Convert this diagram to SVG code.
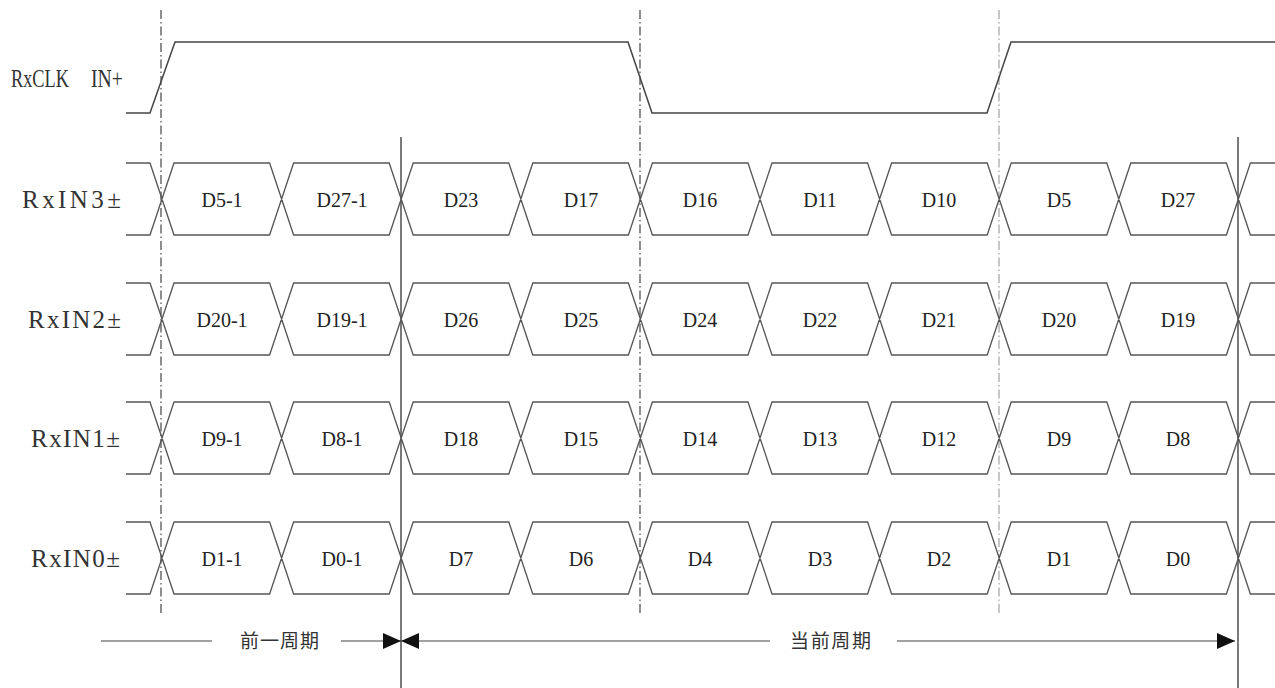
<svg xmlns="http://www.w3.org/2000/svg" width="1275" height="688" viewBox="0 0 1275 688">
<style>
.sig{fill:none;stroke:#555;stroke-width:1.3}
.clk{fill:none;stroke:#444;stroke-width:1.5}
.vl{stroke:#333;stroke-width:1.3}
.dd{stroke:#333;stroke-width:1.1;stroke-dasharray:9 3 1.5 3}
.dd2{stroke:#999;stroke-width:1.1;stroke-dasharray:9 3 1.5 3}
.lbl{font-size:25px;fill:#333}
.dat{font-size:20px;fill:#222;text-anchor:middle}
.cn{font-size:19px;fill:#333}
.ar{fill:none;stroke:#444;stroke-width:1.2}
</style>
<defs>
<marker id="arr" viewBox="0 0 18 16" refX="18" refY="8" markerWidth="18" markerHeight="16" orient="auto" markerUnits="userSpaceOnUse">
<path d="M0,0 L18,8 L0,16 Z" fill="#111"/>
</marker>
</defs>

<g id="guides">
<line class="dd" x1="161" y1="10" x2="161" y2="613"/>
<line class="dd" x1="640" y1="10" x2="640" y2="613"/>
<line class="dd2" x1="999" y1="10" x2="999" y2="613"/>
<line class="vl" x1="401" y1="137" x2="401" y2="688"/>
<line class="vl" x1="1238" y1="137" x2="1238" y2="688" stroke="#666"/>
</g>

<g font-family="Liberation Serif, Times New Roman, serif">
<g id="clk">
<text class="lbl" x="11" y="87" textLength="58" lengthAdjust="spacingAndGlyphs">RxCLK</text>
<text class="lbl" x="91" y="87" textLength="32" lengthAdjust="spacingAndGlyphs">IN+</text>
<path class="clk" d="M126,113 H150 L175,42 H628 L652,113 H987 L1011,42 H1275"/>
</g>

<g id="rx3">
<text class="lbl" x="22" y="208" textLength="99" lengthAdjust="spacing">RxIN3±</text>
<path class="sig" d="M126,163 H150 L174,235 H269.6 L293.6,163 H389.2 L413.2,235 H508.8 L532.8,163 H628.4 L652.4,235 H748 L772,163 H867.6 L891.6,235 H987.2 L1011.2,163 H1106.8 L1130.8,235 H1226.4 L1250.4,163 H1275 M126,235 H150 L174,163 H269.6 L293.6,235 H389.2 L413.2,163 H508.8 L532.8,235 H628.4 L652.4,163 H748 L772,235 H867.6 L891.6,163 H987.2 L1011.2,235 H1106.8 L1130.8,163 H1226.4 L1250.4,235 H1275"/>
<text class="dat" x="222" y="207">D5-1</text>
<text class="dat" x="342" y="207">D27-1</text>
<text class="dat" x="461" y="207">D23</text>
<text class="dat" x="581" y="207">D17</text>
<text class="dat" x="700" y="207">D16</text>
<text class="dat" x="820" y="207">D11</text>
<text class="dat" x="939" y="207">D10</text>
<text class="dat" x="1059" y="207">D5</text>
<text class="dat" x="1178" y="207">D27</text>
</g>

<g id="rx2">
<text class="lbl" x="28" y="328" textLength="93" lengthAdjust="spacing">RxIN2±</text>
<path class="sig" d="M126,283 H150 L174,355 H269.6 L293.6,283 H389.2 L413.2,355 H508.8 L532.8,283 H628.4 L652.4,355 H748 L772,283 H867.6 L891.6,355 H987.2 L1011.2,283 H1106.8 L1130.8,355 H1226.4 L1250.4,283 H1275 M126,355 H150 L174,283 H269.6 L293.6,355 H389.2 L413.2,283 H508.8 L532.8,355 H628.4 L652.4,283 H748 L772,355 H867.6 L891.6,283 H987.2 L1011.2,355 H1106.8 L1130.8,283 H1226.4 L1250.4,355 H1275"/>
<text class="dat" x="222" y="327">D20-1</text>
<text class="dat" x="342" y="327">D19-1</text>
<text class="dat" x="461" y="327">D26</text>
<text class="dat" x="581" y="327">D25</text>
<text class="dat" x="700" y="327">D24</text>
<text class="dat" x="820" y="327">D22</text>
<text class="dat" x="939" y="327">D21</text>
<text class="dat" x="1059" y="327">D20</text>
<text class="dat" x="1178" y="327">D19</text>
</g>

<g id="rx1">
<text class="lbl" x="31" y="447" textLength="89" lengthAdjust="spacing">RxIN1±</text>
<path class="sig" d="M126,402 H150 L174,474 H269.6 L293.6,402 H389.2 L413.2,474 H508.8 L532.8,402 H628.4 L652.4,474 H748 L772,402 H867.6 L891.6,474 H987.2 L1011.2,402 H1106.8 L1130.8,474 H1226.4 L1250.4,402 H1275 M126,474 H150 L174,402 H269.6 L293.6,474 H389.2 L413.2,402 H508.8 L532.8,474 H628.4 L652.4,402 H748 L772,474 H867.6 L891.6,402 H987.2 L1011.2,474 H1106.8 L1130.8,402 H1226.4 L1250.4,474 H1275"/>
<text class="dat" x="222" y="446">D9-1</text>
<text class="dat" x="342" y="446">D8-1</text>
<text class="dat" x="461" y="446">D18</text>
<text class="dat" x="581" y="446">D15</text>
<text class="dat" x="700" y="446">D14</text>
<text class="dat" x="820" y="446">D13</text>
<text class="dat" x="939" y="446">D12</text>
<text class="dat" x="1059" y="446">D9</text>
<text class="dat" x="1178" y="446">D8</text>
</g>

<g id="rx0">
<text class="lbl" x="31" y="567" textLength="89" lengthAdjust="spacing">RxIN0±</text>
<path class="sig" d="M126,522 H150 L174,594 H269.6 L293.6,522 H389.2 L413.2,594 H508.8 L532.8,522 H628.4 L652.4,594 H748 L772,522 H867.6 L891.6,594 H987.2 L1011.2,522 H1106.8 L1130.8,594 H1226.4 L1250.4,522 H1275 M126,594 H150 L174,522 H269.6 L293.6,594 H389.2 L413.2,522 H508.8 L532.8,594 H628.4 L652.4,522 H748 L772,594 H867.6 L891.6,522 H987.2 L1011.2,594 H1106.8 L1130.8,522 H1226.4 L1250.4,594 H1275"/>
<text class="dat" x="222" y="566">D1-1</text>
<text class="dat" x="342" y="566">D0-1</text>
<text class="dat" x="461" y="566">D7</text>
<text class="dat" x="581" y="566">D6</text>
<text class="dat" x="700" y="566">D4</text>
<text class="dat" x="820" y="566">D3</text>
<text class="dat" x="939" y="566">D2</text>
<text class="dat" x="1059" y="566">D1</text>
<text class="dat" x="1178" y="566">D0</text>
</g>
</g>

<g font-family="Noto Sans CJK SC, sans-serif">
<g id="prev-period">
<text class="cn" x="240" y="648" textLength="79">前一周期</text>
</g>
<g id="cur-period">
<text class="cn" x="790" y="648" textLength="81">当前周期</text>
</g>
</g>

<g id="connectors">
<line class="ar" x1="101" y1="641" x2="212" y2="641"/>
<line class="ar" x1="341" y1="641" x2="401" y2="641" marker-end="url(#arr)"/>
<line class="ar" x1="770" y1="641" x2="401" y2="641" marker-end="url(#arr)"/>
<line class="ar" x1="897" y1="641" x2="1235" y2="641" marker-end="url(#arr)"/>
</g>
</svg>
